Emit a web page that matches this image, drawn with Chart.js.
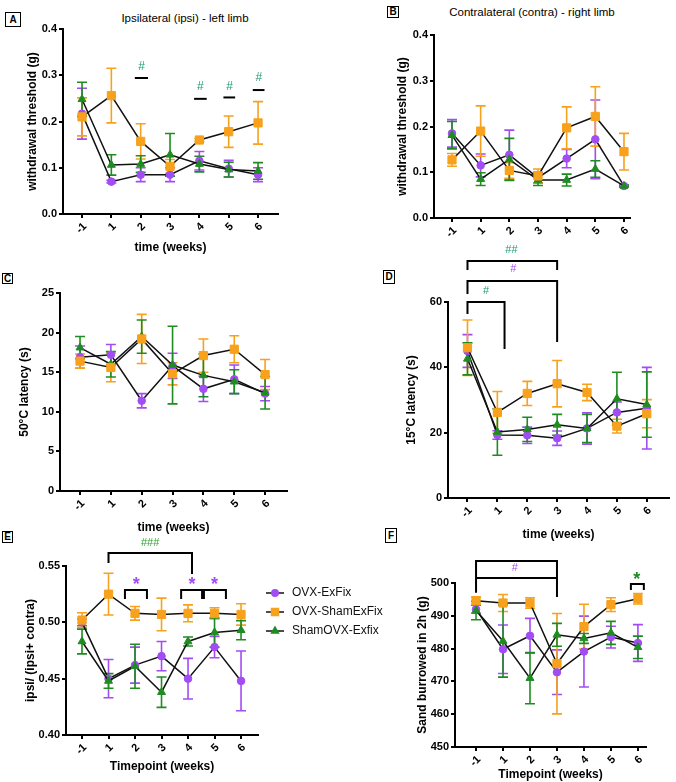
<!DOCTYPE html>
<html>
<head>
<meta charset="utf-8">
<script src="https://cdn.jsdelivr.net/npm/chart.js@4.4.0/dist/chart.umd.min.js"></script>
<style>
  body { margin: 0; background: #fff; width: 676px; height: 782px; position: relative; overflow: hidden;
         font-family: "Liberation Sans", Arial, sans-serif; }
  canvas { position: absolute; left: 0; top: 0; }
  .tag { position: absolute; border: 1px solid #000; font-size: 10px; font-weight: bold; line-height: 1;
         display: flex; align-items: center; justify-content: center; box-sizing: border-box; }
  .ttl { position: absolute; font-size: 11.5px; transform: translate(-50%, -50%); white-space: nowrap; }
</style>
</head>
<body>
<div class="tag" style="left:5px;top:12px;width:16px;height:15px">A</div>
<div class="tag" style="left:387px;top:6px;width:12px;height:12px">B</div>
<div class="tag" style="left:2px;top:273px;width:11px;height:11px">C</div>
<div class="tag" style="left:383px;top:270px;width:12px;height:14px">D</div>
<div class="tag" style="left:2px;top:531px;width:11px;height:12px">E</div>
<div class="tag" style="left:385px;top:528px;width:12px;height:15px">F</div>
<div class="ttl" style="left:185px;top:18px">Ipsilateral (ipsi) - left limb</div>
<div class="ttl" style="left:532px;top:12px">Contralateral (contra) - right limb</div>

<script>
const weeks = ["-1", "1", "2", "3", "4", "5", "6"];
const groupNames = ["OVX-ExFix", "OVX-ShamExFix", "ShamOVX-Exfix"];
const groupColors = ["#a24cf4", "#f7a11c", "#1f8c22"];
const groupShapes = ["circle", "rect", "triangle"];
const groupRadius = [3.8, 5.8, 4.6];
const groupOrder = [2, 0, 1]; // orange squares on top, as in the figure
const hashTeal = "#1b9e6e";

// A - ipsilateral withdrawal threshold (g)
const ipsiOvx = [0.217, 0.070, 0.085, 0.085, 0.115, 0.098, 0.085];
const ipsiOvxErr = [0.055, 0.003, 0.015, 0.015, 0.020, 0.018, 0.015];
const ipsiSham = [0.210, 0.256, 0.157, 0.103, 0.160, 0.178, 0.197];
const ipsiShamErr = [0.041, 0.059, 0.038, 0.015, 0.003, 0.034, 0.046];
const ipsiShamOvx = [0.248, 0.106, 0.108, 0.128, 0.108, 0.096, 0.093];
const ipsiShamOvxErr = [0.037, 0.022, 0.018, 0.046, 0.017, 0.016, 0.018];

// B - contralateral withdrawal threshold (g)
const contraOvx = [0.185, 0.115, 0.138, 0.088, 0.130, 0.172, 0.070];
const contraOvxErr = [0.030, 0.025, 0.054, 0.012, 0.020, 0.086, 0.002];
const contraSham = [0.127, 0.190, 0.104, 0.092, 0.197, 0.222, 0.145];
const contraShamErr = [0.014, 0.055, 0.017, 0.015, 0.046, 0.065, 0.040];
const contraShamOvx = [0.181, 0.085, 0.128, 0.083, 0.083, 0.107, 0.070];
const contraShamOvxErr = [0.030, 0.014, 0.046, 0.012, 0.013, 0.018, 0.002];

// C - 50 C latency (s)
const hotOvx = [16.9, 17.2, 11.4, 15.8, 12.9, 14.1, 12.3];
const hotOvxErr = [1.4, 1.3, 0.9, 1.6, 1.6, 1.8, 0.9];
const hotSham = [16.4, 15.6, 19.2, 14.8, 17.1, 17.9, 14.7];
const hotShamErr = [0.9, 1.8, 3.1, 1.4, 2.1, 1.7, 1.9];
const hotShamOvx = [18.1, 16.0, 19.5, 15.9, 14.6, 13.8, 12.4];
const hotShamOvxErr = [1.4, 1.6, 2.1, 4.9, 2.7, 1.5, 2.05];

// D - 15 C latency (s)
const coldOvx = [45.0, 19.3, 19.2, 18.3, 21.3, 26.2, 27.5];
const coldOvxErr = [5.0, 1.3, 2.5, 2.2, 4.8, 3.2, 12.5];
const coldSham = [46.0, 26.2, 32.0, 35.0, 32.3, 22.0, 25.8];
const coldShamErr = [8.5, 6.4, 3.7, 7.1, 2.5, 2.1, 4.3];
const coldShamOvx = [42.6, 20.2, 21.0, 22.4, 21.3, 30.4, 28.6];
const coldShamOvxErr = [4.9, 7.1, 3.7, 3.2, 4.3, 8.1, 10.0];

// E - ipsi / (ipsi + contra)
const ratioOvx = [0.500, 0.450, 0.462, 0.470, 0.450, 0.478, 0.448];
const ratioOvxErr = [0.003, 0.017, 0.016, 0.013, 0.018, 0.0095, 0.0265];
const ratioSham = [0.502, 0.525, 0.508, 0.507, 0.508, 0.508, 0.507];
const ratioShamErr = [0.0065, 0.0185, 0.006, 0.0145, 0.0075, 0.005, 0.0095];
const ratioShamOvx = [0.483, 0.448, 0.461, 0.438, 0.483, 0.491, 0.493];
const ratioShamOvxErr = [0.011, 0.0065, 0.0195, 0.0135, 0.004, 0.013, 0.0085];

// F - sand burrowed in 2h (g)
const sandOvx = [492.0, 479.8, 483.9, 472.8, 479.1, 483.5, 481.7];
const sandOvxErr = [1.2, 7.4, 5.3, 6.8, 10.8, 3.3, 5.6];
const sandSham = [494.6, 493.9, 493.9, 475.4, 486.7, 493.4, 495.2];
const sandShamErr = [1.1, 2.6, 1.6, 15.3, 6.8, 2.1, 1.6];
const sandShamOvx = [491.6, 482.3, 471.0, 484.2, 483.1, 484.8, 480.4];
const sandShamOvxErr = [2.8, 11.0, 7.8, 3.5, 1.5, 3.5, 3.4];

const FONT = '"Liberation Sans", Arial, sans-serif';

const errorBars = {
  id: "errorBars",
  beforeDatasetsDraw(chart) {
    const ctx = chart.ctx, y = chart.scales.y;
    chart.data.datasets.forEach((ds, di) => {
      const meta = chart.getDatasetMeta(di);
      ctx.save();
      ctx.strokeStyle = groupColors[di];
      ctx.lineWidth = 1.6;
      meta.data.forEach((pt, i) => {
        const m = ds.data[i].y, e = ds.err[i];
        const top = y.getPixelForValue(m + e), bot = y.getPixelForValue(m - e);
        ctx.beginPath();
        ctx.moveTo(pt.x, top); ctx.lineTo(pt.x, bot);
        ctx.moveTo(pt.x - 5, top); ctx.lineTo(pt.x + 5, top);
        ctx.moveTo(pt.x - 5, bot); ctx.lineTo(pt.x + 5, bot);
        ctx.stroke();
      });
      ctx.restore();
    });
  }
};

function notesPlugin(items) {
  return {
    id: "notes",
    afterDraw(chart) {
      const { ctx, scales: { x, y } } = chart;
      ctx.save();
      items.forEach(n => {
        if (n.text) {
          ctx.fillStyle = n.color;
          ctx.font = (n.bold ? "bold " : "") + (n.size || 12) + "px " + FONT;
          ctx.textAlign = "center";
          ctx.textBaseline = "middle";
          ctx.fillText(n.text, x.getPixelForValue(n.x), y.getPixelForValue(n.y));
          return;
        }
        ctx.strokeStyle = "#000";
        ctx.lineWidth = 2;
        const x1 = x.getPixelForValue(n.x1), x2 = x.getPixelForValue(n.x2), yy = y.getPixelForValue(n.y);
        ctx.beginPath();
        if (n.y1 !== undefined) {
          ctx.moveTo(x1, y.getPixelForValue(n.y1));
          ctx.lineTo(x1, yy);
          ctx.lineTo(x2, yy);
          ctx.lineTo(x2, y.getPixelForValue(n.y2));
        } else {
          ctx.moveTo(x1, yy);
          ctx.lineTo(x2, yy);
        }
        ctx.stroke();
      });
      ctx.restore();
    }
  };
}

const legendE = {
  id: "legendE",
  afterDraw(chart) {
    const ctx = chart.ctx;
    ctx.save();
    chart.data.datasets.forEach((ds, i) => {
      const yy = 593 + i * 19;
      ctx.strokeStyle = "#111";
      ctx.lineWidth = 1.5;
      ctx.beginPath(); ctx.moveTo(266, yy); ctx.lineTo(284, yy); ctx.stroke();
      ctx.fillStyle = groupColors[i];
      ctx.strokeStyle = groupColors[i];
      Chart.helpers.drawPoint(ctx, { pointStyle: groupShapes[i], radius: groupRadius[i] * 0.85, borderWidth: 1 }, 275, yy);
      ctx.fillStyle = "#111";
      ctx.font = "12px " + FONT;
      ctx.textBaseline = "middle";
      ctx.textAlign = "left";
      ctx.fillText(ds.label, 292, yy);
    });
    ctx.restore();
  }
};

function makePanel(p) {
  const canvas = document.createElement("canvas");
  canvas.width = 676;
  canvas.height = 782;
  document.body.appendChild(canvas);
  const half = 7.2;
  const padLeft = p.yTitleX - half;
  const yWidth = p.area.left - padLeft;
  const xHeight = (p.xTitle ? p.xTitleY + half : p.area.bottom + 40) - p.area.bottom;
  const datasets = p.series.map((s, i) => ({
    label: groupNames[i],
    data: s[0].map((v, k) => ({ x: k, y: v })),
    err: s[1],
    order: groupOrder[i],
    borderColor: "#111",
    borderWidth: 1.5,
    pointStyle: groupShapes[i],
    pointRadius: groupRadius[i],
    pointBackgroundColor: groupColors[i],
    pointBorderColor: groupColors[i],
    pointBorderWidth: 1,
    clip: false,
  }));
  const tickFont = { family: FONT, size: 11, weight: "bold" };
  const titleFont = { family: FONT, size: 12, weight: "bold" };
  return new Chart(canvas, {
    type: "line",
    data: { datasets },
    options: {
      responsive: false,
      animation: false,
      events: [],
      layout: {
        padding: { left: padLeft, top: p.area.top, right: 676 - p.area.right, bottom: 782 - p.area.bottom - xHeight }
      },
      plugins: { legend: { display: false }, tooltip: { enabled: false } },
      scales: {
        x: {
          type: "linear",
          min: p.xMin,
          max: p.xMax,
          afterFit: s => { s.height = xHeight; },
          afterBuildTicks: s => { s.ticks = weeks.map((w, i) => ({ value: i })); },
          ticks: { callback: v => weeks[v], font: tickFont, color: "#000", minRotation: 45, maxRotation: 45, padding: 2, labelOffset: 3 },
          grid: { drawOnChartArea: false, color: "#000", lineWidth: 2, tickLength: 4 },
          border: { color: "#000", width: 2 },
          title: { display: !!p.xTitle, text: p.xTitle || "", font: titleFont, color: "#000", padding: 0 }
        },
        y: {
          min: p.yMin,
          max: p.yMax,
          afterFit: s => { s.width = yWidth; },
          ticks: { stepSize: p.yStep, callback: v => v.toFixed(p.yDec), font: tickFont, color: "#000", padding: 2 },
          grid: { drawOnChartArea: false, color: "#000", lineWidth: 2, tickLength: 4 },
          border: { color: "#000", width: 2 },
          title: { display: true, text: p.yTitle, font: titleFont, color: "#000", padding: 0 }
        }
      }
    },
    plugins: [errorBars, notesPlugin(p.notes || [])].concat(p.extra || [])
  });
}

// A
makePanel({
  area: { left: 63, right: 278, top: 29, bottom: 214 },
  xMin: -0.648, xMax: 6.68, yMin: 0, yMax: 0.4, yStep: 0.1, yDec: 1,
  yTitle: "withdrawal threshold (g)", yTitleX: 33,
  xTitle: "time (weeks)", xTitleY: 248,
  series: [[ipsiOvx, ipsiOvxErr], [ipsiSham, ipsiShamErr], [ipsiShamOvx, ipsiShamOvxErr]],
  notes: [
    { x1: 1.8, x2: 2.25, y: 0.294 }, { text: "#", x: 2.03, y: 0.318, color: hashTeal },
    { x1: 3.82, x2: 4.25, y: 0.249 }, { text: "#", x: 4.03, y: 0.275, color: hashTeal },
    { x1: 4.82, x2: 5.22, y: 0.252 }, { text: "#", x: 5.03, y: 0.276, color: hashTeal },
    { x1: 5.82, x2: 6.22, y: 0.268 }, { text: "#", x: 6.03, y: 0.295, color: hashTeal },
  ]
});

// B
makePanel({
  area: { left: 434, right: 630, top: 35, bottom: 218 },
  xMin: -0.628, xMax: 6.21, yMin: 0, yMax: 0.4, yStep: 0.1, yDec: 1,
  yTitle: "withdrawal threshold (g)", yTitleX: 403,
  series: [[contraOvx, contraOvxErr], [contraSham, contraShamErr], [contraShamOvx, contraShamOvxErr]]
});

// C
makePanel({
  area: { left: 60, right: 287, top: 293, bottom: 491 },
  xMin: -0.649, xMax: 6.71, yMin: 0, yMax: 25, yStep: 5, yDec: 0,
  yTitle: "50°C latency (s)", yTitleX: 25,
  xTitle: "time (weeks)", xTitleY: 528,
  series: [[hotOvx, hotOvxErr], [hotSham, hotShamErr], [hotShamOvx, hotShamOvxErr]]
});

// D
makePanel({
  area: { left: 448, right: 675, top: 302, bottom: 498 },
  xMin: -0.652, xMax: 6.75, yMin: 0, yMax: 60, yStep: 20, yDec: 0,
  yTitle: "15°C latency (s)", yTitleX: 412,
  xTitle: "time (weeks)", xTitleY: 535,
  series: [[coldOvx, coldOvxErr], [coldSham, coldShamErr], [coldShamOvx, coldShamOvxErr]],
  notes: [
    { x1: 0, x2: 3, y: 72.55, y1: 69.8, y2: 69.8 },
    { text: "##", x: 1.47, y: 75.9, color: hashTeal, size: 11 },
    { x1: 0, x2: 3, y: 66.4, y1: 62.45, y2: 47.75 },
    { text: "#", x: 1.53, y: 70.1, color: groupColors[0], size: 11 },
    { x1: 0, x2: 1.24, y: 60, y1: 56.3, y2: 45.6 },
    { text: "#", x: 0.62, y: 63.4, color: hashTeal, size: 11 },
  ]
});

// E
makePanel({
  area: { left: 66, right: 258, top: 566, bottom: 735 },
  xMin: -0.604, xMax: 6.64, yMin: 0.40, yMax: 0.55, yStep: 0.05, yDec: 2,
  yTitle: "ipsi/ (ipsi+ contra)", yTitleX: 31,
  xTitle: "Timepoint (weeks)", xTitleY: 767,
  series: [[ratioOvx, ratioOvxErr], [ratioSham, ratioShamErr], [ratioShamOvx, ratioShamOvxErr]],
  notes: [
    { x1: 1, x2: 4.15, y: 0.5615, y1: 0.5527, y2: 0.5429 },
    { text: "###", x: 2.57, y: 0.5704, color: "#2ea52e", size: 11 },
    { x1: 1.62, x2: 2.45, y: 0.5287, y1: 0.5207, y2: 0.5207 },
    { x1: 3.74, x2: 4.53, y: 0.5287, y1: 0.5207, y2: 0.5207 },
    { x1: 4.6, x2: 5.43, y: 0.5287, y1: 0.5207, y2: 0.5207 },
    { text: "*", x: 2.05, y: 0.5330, color: groupColors[0], size: 18, bold: true },
    { text: "*", x: 4.15, y: 0.5330, color: groupColors[0], size: 18, bold: true },
    { text: "*", x: 5.0, y: 0.5330, color: groupColors[0], size: 18, bold: true },
  ],
  extra: [legendE]
});

// F
makePanel({
  area: { left: 455, right: 646, top: 583, bottom: 747 },
  xMin: -0.78, xMax: 6.30, yMin: 450, yMax: 500, yStep: 10, yDec: 0,
  yTitle: "Sand burrowed in 2h (g)", yTitleX: 423,
  xTitle: "Timepoint (weeks)", xTitleY: 774.5,
  series: [[sandOvx, sandOvxErr], [sandSham, sandShamErr], [sandShamOvx, sandShamOvxErr]],
  notes: [
    { x1: 0, x2: 3, y: 506.7, y1: 497.0, y2: 495.7 },
    { x1: 0, x2: 3, y: 501.5 },
    { text: "#", x: 1.44, y: 504.6, color: groupColors[0], size: 11 },
    { x1: 5.74, x2: 6.22, y: 499.7, y1: 497.9, y2: 497.9 },
    { text: "*", x: 5.96, y: 501.0, color: "#1f8c22", size: 18, bold: true },
  ]
});
</script>
</body>
</html>
